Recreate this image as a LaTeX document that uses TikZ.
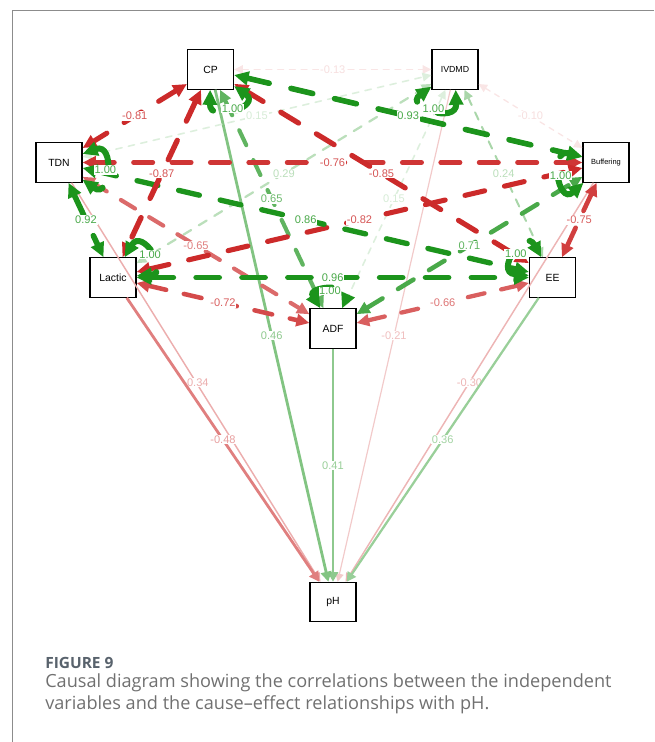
\documentclass[tikz,border=0pt]{standalone}
\usepackage{fontspec}
\setmainfont{Liberation Sans}
\newfontfamily\capfont{Open Sans}
\usetikzlibrary{arrows.meta}

\definecolor{posgreen}{RGB}{28,148,28}
\definecolor{negred}{RGB}{204,42,42}
\definecolor{framegray}{RGB}{140,140,140}
\definecolor{capgray}{RGB}{112,112,112}
\definecolor{headgray}{RGB}{88,98,108}

\tikzstyle{var}=[rectangle, draw=black, line width=0.9pt, fill=white, minimum width=34.5pt, minimum height=29.5pt, inner sep=0pt, font=\fontsize{7.8}{9}\selectfont]
\tikzstyle{corr}=[{Triangle[length=5pt 1.4,width=5pt 1.2]}-{Triangle[length=5pt 1.4,width=5pt 1.2]}, line width=#1, dash pattern=on 4*#1 off 4*#1, line cap=round]
\tikzstyle{effect}=[-{Triangle[length=5pt 1.2,width=5pt 1.4]}, line width=#1]
\tikzstyle{val}=[fill=white, inner sep=0.6pt, font=\fontsize{8.3}{9}\selectfont]

\begin{document}
\begin{tikzpicture}[x=0.75pt, y=-0.75pt]
\useasboundingbox (0,0) rectangle (654,742);

% frame
\draw[framegray, line width=1.1pt] (654,10.5) -- (12.7,10.5) -- (12.7,742);

% variables
\node (CP) at (210.5,69.5) [var] {CP};
\node (IVDMD) at (455,69.5) [var, font=\fontsize{6.6}{8}\selectfont] {IVDMD};
\node (TDN) at (59,162.5) [var] {TDN};
\node (Buffering) at (606,162.5) [var, font=\fontsize{5.6}{7}\selectfont] {Buffering};
\node (Lactic) at (113,277.5) [var] {Lactic};
\node (EE) at (552.5,277.5) [var] {EE};
\node (ADF) at (333,328.5) [var] {ADF};
\node (pH) at (333,602) [var] {pH};

% effects on pH
\draw[effect=0.9pt, negred!25] (IVDMD) -- (pH) node[val, pos=0.5, text=negred!30] {-0.21};
\draw[effect=1.1pt, negred!35] (Buffering) -- (pH) node[val, pos=0.5, text=negred!35] {-0.30};
\draw[effect=1.1pt, negred!38] (TDN) -- (pH) node[val, pos=0.5, text=negred!38] {-0.34};
\draw[effect=1.7pt, posgreen!45] (EE) -- (pH) node[val, pos=0.5, text=posgreen!40] {0.36};
\draw[effect=1.9pt, posgreen!50] (ADF) -- (pH) node[val, pos=0.5, text=posgreen!45] {0.41};
\draw[effect=2.1pt, posgreen!55] (CP) -- (pH) node[val, pos=0.5, text=posgreen!50] {0.46};
\draw[effect=2.1pt, negred!60] (Lactic) -- (pH) node[val, pos=0.5, text=negred!45] {-0.48};

% weak correlations
\draw[corr=1.0pt, negred!12] (IVDMD) -- (Buffering) node[val, pos=0.5, text=negred!15] {-0.10};
\draw[corr=1.1pt, negred!12] (CP) -- (IVDMD) node[val, pos=0.5, text=negred!15] {-0.13};
\draw[corr=1.2pt, posgreen!15] (TDN) -- (IVDMD) node[val, pos=0.5, text=posgreen!18] {0.15};
\draw[corr=1.2pt, posgreen!15] (IVDMD) -- (ADF) node[val, pos=0.5, text=posgreen!18] {0.15};
\draw[corr=1.5pt, posgreen!38] (IVDMD) -- (EE) node[val, pos=0.5, text=posgreen!30] {0.24};
\draw[corr=1.7pt, posgreen!30] (IVDMD) -- (Lactic) node[val, pos=0.5, text=posgreen!30] {0.29};

% strong correlations
\draw[corr=3.1pt, negred!70] (TDN) -- (ADF) node[val, pos=0.5, text=negred!60] {-0.65};
\draw[corr=3.1pt, posgreen!70] (CP) -- (ADF) node[val, pos=0.5, text=posgreen!65] {0.65};
\draw[corr=3.2pt, negred!75] (ADF) -- (EE) node[val, pos=0.5, text=negred!65] {-0.66};
\draw[corr=3.4pt, posgreen!80] (ADF) -- (Buffering) node[val, pos=0.5, text=posgreen!70] {0.71};
\draw[corr=3.4pt, negred!85] (Lactic) -- (ADF) node[val, pos=0.5, text=negred!75] {-0.72};
\draw[corr=3.5pt, negred!90] (Buffering) -- (EE) node[val, pos=0.5, text=negred!75] {-0.75};
\draw[corr=3.6pt, negred!95] (TDN) -- (Buffering) node[val, pos=0.5, text=negred!80] {-0.76};
\draw[corr=3.8pt, negred] (CP) -- (TDN) node[val, pos=0.5, text=negred!80] {-0.81};
\draw[corr=3.8pt, negred] (Lactic) -- (Buffering) node[val, pos=0.5, text=negred!80] {-0.82};
\draw[corr=3.9pt, negred] (CP) -- (EE) node[val, pos=0.5, text=negred!80] {-0.85};
\draw[corr=4.0pt, posgreen] (TDN) -- (EE) node[val, pos=0.5, text=posgreen!80] {0.86};
\draw[corr=4.0pt, negred] (CP) -- (Lactic) node[val, pos=0.5, text=negred!80] {-0.87};
\draw[corr=4.2pt, posgreen] (TDN) -- (Lactic) node[val, pos=0.5, text=posgreen!80] {0.92};
\draw[corr=4.2pt, posgreen] (CP) -- (Buffering) node[val, pos=0.5, text=posgreen!80] {0.93};
\draw[corr=4.3pt, posgreen] (Lactic) -- (EE) node[val, pos=0.5, text=posgreen!80] {0.96};

% self loops
\draw[corr=4.5pt, posgreen] (CP) to[out=-35, in=-91, distance=26pt] node[val, pos=0.5, text=posgreen!80] {1.00} (CP);
\draw[corr=4.5pt, posgreen] (IVDMD) to[out=-88, in=-144, distance=26pt] node[val, pos=0.5, text=posgreen!80] {1.00} (IVDMD);
\draw[corr=4.5pt, posgreen] (TDN) to[out=20, in=-36, distance=26pt] node[val, pos=0.5, text=posgreen!80] {1.00} (TDN);
\draw[corr=4.5pt, posgreen] (Buffering) to[out=-138, in=166, distance=26pt] node[val, pos=0.5, text=posgreen!80] {1.00} (Buffering);
\draw[corr=4.5pt, posgreen] (Lactic) to[out=60, in=4, distance=26pt] node[val, pos=0.5, text=posgreen!80] {1.00} (Lactic);
\draw[corr=4.5pt, posgreen] (EE) to[out=175, in=119, distance=26pt] node[val, pos=0.5, text=posgreen!80] {1.00} (EE);
\draw[corr=4.5pt, posgreen] (ADF) to[out=122, in=66, distance=20pt] node[val, pos=0.5, inner sep=0pt, text=posgreen!80] {1.00} (ADF);

% caption
\node (fignum) at (45,663) [anchor=west, inner sep=0pt, text=headgray, font=\capfont\bfseries\fontsize{11.6}{13}\selectfont] {FIGURE 9};
\node (caption) at (45,694) [anchor=west, inner sep=0pt, align=left, text=capgray, font=\capfont\fontsize{13.6}{16.5}\selectfont] {Causal diagram showing the correlations between the independent\\variables and the cause–effect relationships with pH.};
\end{tikzpicture}
\end{document}
